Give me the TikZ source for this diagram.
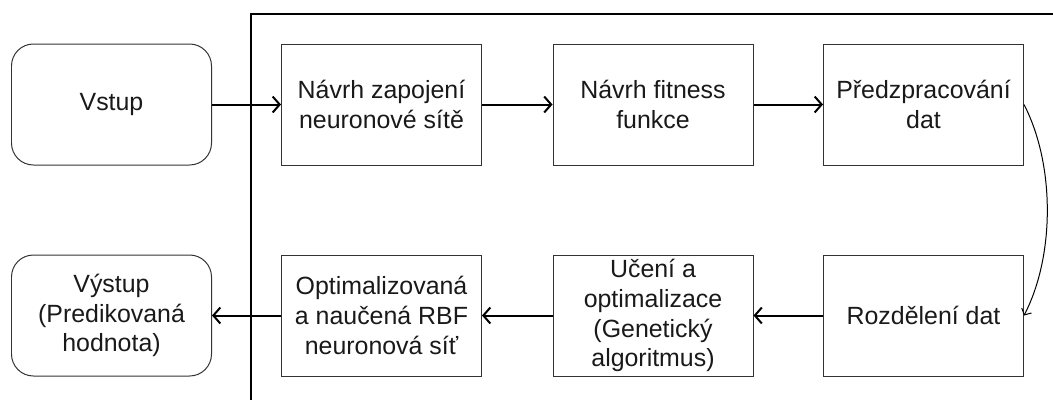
\documentclass[tikz,border=0pt]{standalone}
\usepackage{fontspec}
\setmainfont{Liberation Sans}
\usetikzlibrary{arrows.meta}
\begin{document}
\begin{tikzpicture}[x=1bp,y=-1bp,
  box/.style={draw=black!80, line width=1pt, minimum width=200bp, minimum height=121bp,
    inner sep=0pt, align=center, font=\fontsize{25}{30}\selectfont, text=black!90},
  term/.style={box, rounded corners=22pt},
  conn/.style={line width=2pt, -{Straight Barb[length=7pt,width=16pt,line width=2pt]}},
  thin/.style={line width=1pt, -{Straight Barb[length=5pt,width=11pt,line width=1pt]}}
]
\useasboundingbox (0,0) rectangle (1053,399);
\coordinate (fb) at (251,400);
\coordinate (ftl) at (251,14);
\coordinate (fr) at (1054,14);
\draw[line width=2.2pt] (fb) -- (ftl) -- (fr);

\node[term] (in) at (111.5,104.5) {Vstup};
\node[box] (b1) at (381.5,104.5) {Návrh zapojení\\neuronové sítě};
\node[box] (b2) at (653,104.5) {Návrh fitness\\funkce};
\node[box] (b3) at (923.5,104.5) {Předzpracování\\dat};
\node[box] (b4) at (923.5,315.5) {Rozdělení dat};
\node[box] (b5) at (653,315.5) {Učení a\\optimalizace\\(Genetický\\algoritmus)};
\node[box] (b6) at (381.5,315.5) {Optimalizovaná\\a naučená RBF\\neuronová síť};
\node[term] (out) at (111.5,315.5) {Výstup\\(Predikovaná\\hodnota)};

\draw[conn] (in) -- (b1);
\draw[conn] (b1) -- (b2);
\draw[conn] (b2) -- (b3);
\draw[thin] (b3.east) .. controls +(31,60) and +(31,-60) .. (b4.east);
\draw[conn] (b4) -- (b5);
\draw[conn] (b5) -- (b6);
\draw[conn] (b6) -- (out);
\end{tikzpicture}
\end{document}
